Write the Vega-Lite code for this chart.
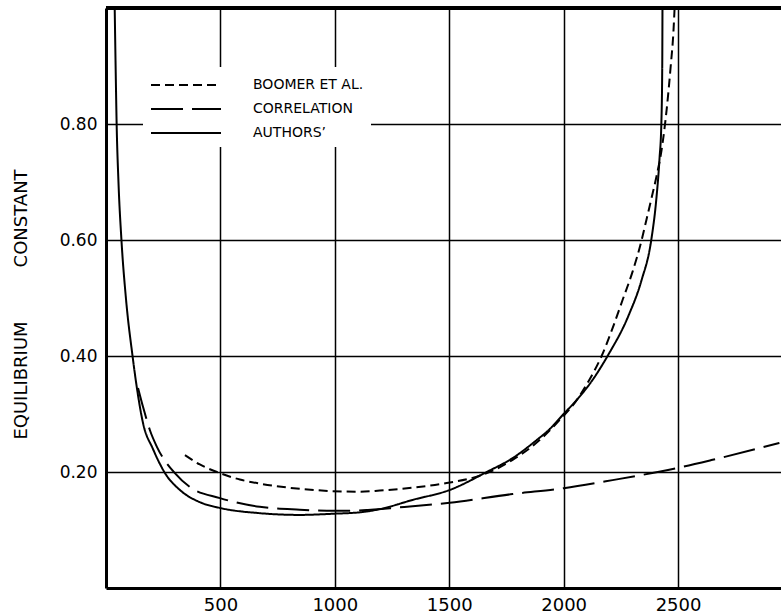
{
  "$schema": "https://vega.github.io/schema/vega-lite/v6.json",
  "width": 675,
  "height": 580,
  "autosize": {"type": "none"},
  "padding": {"left": 106, "top": 8, "right": 0, "bottom": 25},
  "background": "white",
  "config": {"view": {"stroke": null}, "font": "DejaVu Sans"},
  "data": {
    "values": [
      {"series": "AUTHORS’", "temp": 38, "k": 1.0},
      {"series": "AUTHORS’", "temp": 42, "k": 0.90},
      {"series": "AUTHORS’", "temp": 46.5, "k": 0.80},
      {"series": "AUTHORS’", "temp": 54.5, "k": 0.70},
      {"series": "AUTHORS’", "temp": 67.5, "k": 0.60},
      {"series": "AUTHORS’", "temp": 87, "k": 0.50},
      {"series": "AUTHORS’", "temp": 116, "k": 0.40},
      {"series": "AUTHORS’", "temp": 135, "k": 0.345},
      {"series": "AUTHORS’", "temp": 162, "k": 0.284},
      {"series": "AUTHORS’", "temp": 205, "k": 0.24},
      {"series": "AUTHORS’", "temp": 258, "k": 0.198},
      {"series": "AUTHORS’", "temp": 323, "k": 0.169},
      {"series": "AUTHORS’", "temp": 410, "k": 0.148},
      {"series": "AUTHORS’", "temp": 498, "k": 0.138},
      {"series": "AUTHORS’", "temp": 672, "k": 0.129},
      {"series": "AUTHORS’", "temp": 847, "k": 0.126},
      {"series": "AUTHORS’", "temp": 991, "k": 0.128},
      {"series": "AUTHORS’", "temp": 1122, "k": 0.131},
      {"series": "AUTHORS’", "temp": 1197, "k": 0.136},
      {"series": "AUTHORS’", "temp": 1341, "k": 0.152},
      {"series": "AUTHORS’", "temp": 1502, "k": 0.169},
      {"series": "AUTHORS’", "temp": 1664, "k": 0.20},
      {"series": "AUTHORS’", "temp": 1777, "k": 0.224},
      {"series": "AUTHORS’", "temp": 1882, "k": 0.255},
      {"series": "AUTHORS’", "temp": 1939, "k": 0.274},
      {"series": "AUTHORS’", "temp": 2000, "k": 0.30},
      {"series": "AUTHORS’", "temp": 2057, "k": 0.324},
      {"series": "AUTHORS’", "temp": 2127, "k": 0.359},
      {"series": "AUTHORS’", "temp": 2192, "k": 0.40},
      {"series": "AUTHORS’", "temp": 2284, "k": 0.47},
      {"series": "AUTHORS’", "temp": 2340, "k": 0.53},
      {"series": "AUTHORS’", "temp": 2383, "k": 0.60},
      {"series": "AUTHORS’", "temp": 2405, "k": 0.67},
      {"series": "AUTHORS’", "temp": 2419, "k": 0.74},
      {"series": "AUTHORS’", "temp": 2427, "k": 0.80},
      {"series": "AUTHORS’", "temp": 2431, "k": 0.90},
      {"series": "AUTHORS’", "temp": 2432, "k": 1.0},

      {"series": "BOOMER ET AL.", "temp": 345, "k": 0.229},
      {"series": "BOOMER ET AL.", "temp": 410, "k": 0.213},
      {"series": "BOOMER ET AL.", "temp": 498, "k": 0.198},
      {"series": "BOOMER ET AL.", "temp": 585, "k": 0.187},
      {"series": "BOOMER ET AL.", "temp": 672, "k": 0.180},
      {"series": "BOOMER ET AL.", "temp": 847, "k": 0.171},
      {"series": "BOOMER ET AL.", "temp": 991, "k": 0.167},
      {"series": "BOOMER ET AL.", "temp": 1100, "k": 0.166},
      {"series": "BOOMER ET AL.", "temp": 1197, "k": 0.168},
      {"series": "BOOMER ET AL.", "temp": 1341, "k": 0.173},
      {"series": "BOOMER ET AL.", "temp": 1489, "k": 0.181},
      {"series": "BOOMER ET AL.", "temp": 1620, "k": 0.192},
      {"series": "BOOMER ET AL.", "temp": 1700, "k": 0.204},
      {"series": "BOOMER ET AL.", "temp": 1777, "k": 0.221},
      {"series": "BOOMER ET AL.", "temp": 1895, "k": 0.255},
      {"series": "BOOMER ET AL.", "temp": 1969, "k": 0.284},
      {"series": "BOOMER ET AL.", "temp": 2057, "k": 0.324},
      {"series": "BOOMER ET AL.", "temp": 2114, "k": 0.36},
      {"series": "BOOMER ET AL.", "temp": 2166, "k": 0.40},
      {"series": "BOOMER ET AL.", "temp": 2214, "k": 0.448},
      {"series": "BOOMER ET AL.", "temp": 2258, "k": 0.497},
      {"series": "BOOMER ET AL.", "temp": 2301, "k": 0.545},
      {"series": "BOOMER ET AL.", "temp": 2341, "k": 0.60},
      {"series": "BOOMER ET AL.", "temp": 2362, "k": 0.635},
      {"series": "BOOMER ET AL.", "temp": 2384, "k": 0.672},
      {"series": "BOOMER ET AL.", "temp": 2406, "k": 0.71},
      {"series": "BOOMER ET AL.", "temp": 2428, "k": 0.755},
      {"series": "BOOMER ET AL.", "temp": 2450, "k": 0.824},
      {"series": "BOOMER ET AL.", "temp": 2468, "k": 0.90},
      {"series": "BOOMER ET AL.", "temp": 2480, "k": 0.96},
      {"series": "BOOMER ET AL.", "temp": 2485, "k": 1.0},

      {"series": "CORRELATION", "temp": 140, "k": 0.345},
      {"series": "CORRELATION", "temp": 162, "k": 0.312},
      {"series": "CORRELATION", "temp": 192, "k": 0.272},
      {"series": "CORRELATION", "temp": 223, "k": 0.243},
      {"series": "CORRELATION", "temp": 301, "k": 0.198},
      {"series": "CORRELATION", "temp": 367, "k": 0.174},
      {"series": "CORRELATION", "temp": 498, "k": 0.155},
      {"series": "CORRELATION", "temp": 672, "k": 0.140},
      {"series": "CORRELATION", "temp": 847, "k": 0.135},
      {"series": "CORRELATION", "temp": 1000, "k": 0.133},
      {"series": "CORRELATION", "temp": 1122, "k": 0.134},
      {"series": "CORRELATION", "temp": 1284, "k": 0.139},
      {"series": "CORRELATION", "temp": 1502, "k": 0.147},
      {"series": "CORRELATION", "temp": 1777, "k": 0.162},
      {"series": "CORRELATION", "temp": 2000, "k": 0.172},
      {"series": "CORRELATION", "temp": 2214, "k": 0.186},
      {"series": "CORRELATION", "temp": 2498, "k": 0.207},
      {"series": "CORRELATION", "temp": 2651, "k": 0.221},
      {"series": "CORRELATION", "temp": 2943, "k": 0.25}
    ]
  },
  "layer": [
    {
      "mark": {"type": "line", "interpolate": "monotone", "strokeWidth": 2, "color": "black"},
      "encoding": {
        "x": {
          "field": "temp",
          "type": "quantitative",
          "scale": {"domain": [0, 2950], "nice": false, "zero": false},
          "axis": {
            "title": null,
            "values": [500, 1000, 1500, 2000, 2500],
            "format": "d",
            "grid": true,
            "gridColor": "black",
            "gridWidth": 1.5,
            "gridOpacity": 1,
            "ticks": false,
            "tickSize": 0,
            "domainColor": "black",
            "domainWidth": 3,
            "labelFont": "DejaVu Sans",
            "labelFontSize": 18,
            "labelColor": "black",
            "labelPadding": 8
          }
        },
        "y": {
          "field": "k",
          "type": "quantitative",
          "scale": {"domain": [0, 1], "nice": false},
          "axis": {
            "title": "EQUILIBRIUM\u2003\u2003\u2003CONSTANT",
            "values": [0.2, 0.4, 0.6, 0.8],
            "format": ".2f",
            "grid": true,
            "gridColor": "black",
            "gridWidth": 1.5,
            "gridOpacity": 1,
            "ticks": false,
            "tickSize": 0,
            "domainColor": "black",
            "domainWidth": 3,
            "labelFont": "DejaVu Sans",
            "labelFontSize": 17,
            "labelColor": "black",
            "labelPadding": 9,
            "titleFont": "DejaVu Sans",
            "titleFontSize": 18,
            "titleFontWeight": "normal",
            "titleColor": "black",
            "titleAngle": -90,
            "titleX": -85,
            "titleY": 296,
            "titleAlign": "center",
            "titleBaseline": "middle"
          }
        },
        "strokeDash": {
          "field": "series",
          "type": "nominal",
          "scale": {
            "domain": ["BOOMER ET AL.", "CORRELATION", "AUTHORS’"],
            "range": [[9, 5], [32, 9], [1, 0]]
          },
          "legend": {
            "title": null,
            "orient": "none",
            "legendX": 37,
            "legendY": 59,
            "fillColor": "white",
            "strokeColor": null,
            "padding": 7,
            "rowPadding": 6,
            "symbolType": "M-1,0H6",
            "symbolSize": 400,
            "symbolStrokeWidth": 2,
            "symbolStrokeColor": "black",
            "symbolFillColor": "transparent",
            "labelFont": "DejaVu Sans",
            "labelFontSize": 14,
            "labelColor": "black",
            "labelOffset": 81
          }
        }
      }
    },
    {
      "mark": {"type": "rule", "strokeWidth": 3, "color": "black"},
      "encoding": {"y": {"datum": 1}}
    }
  ]
}
